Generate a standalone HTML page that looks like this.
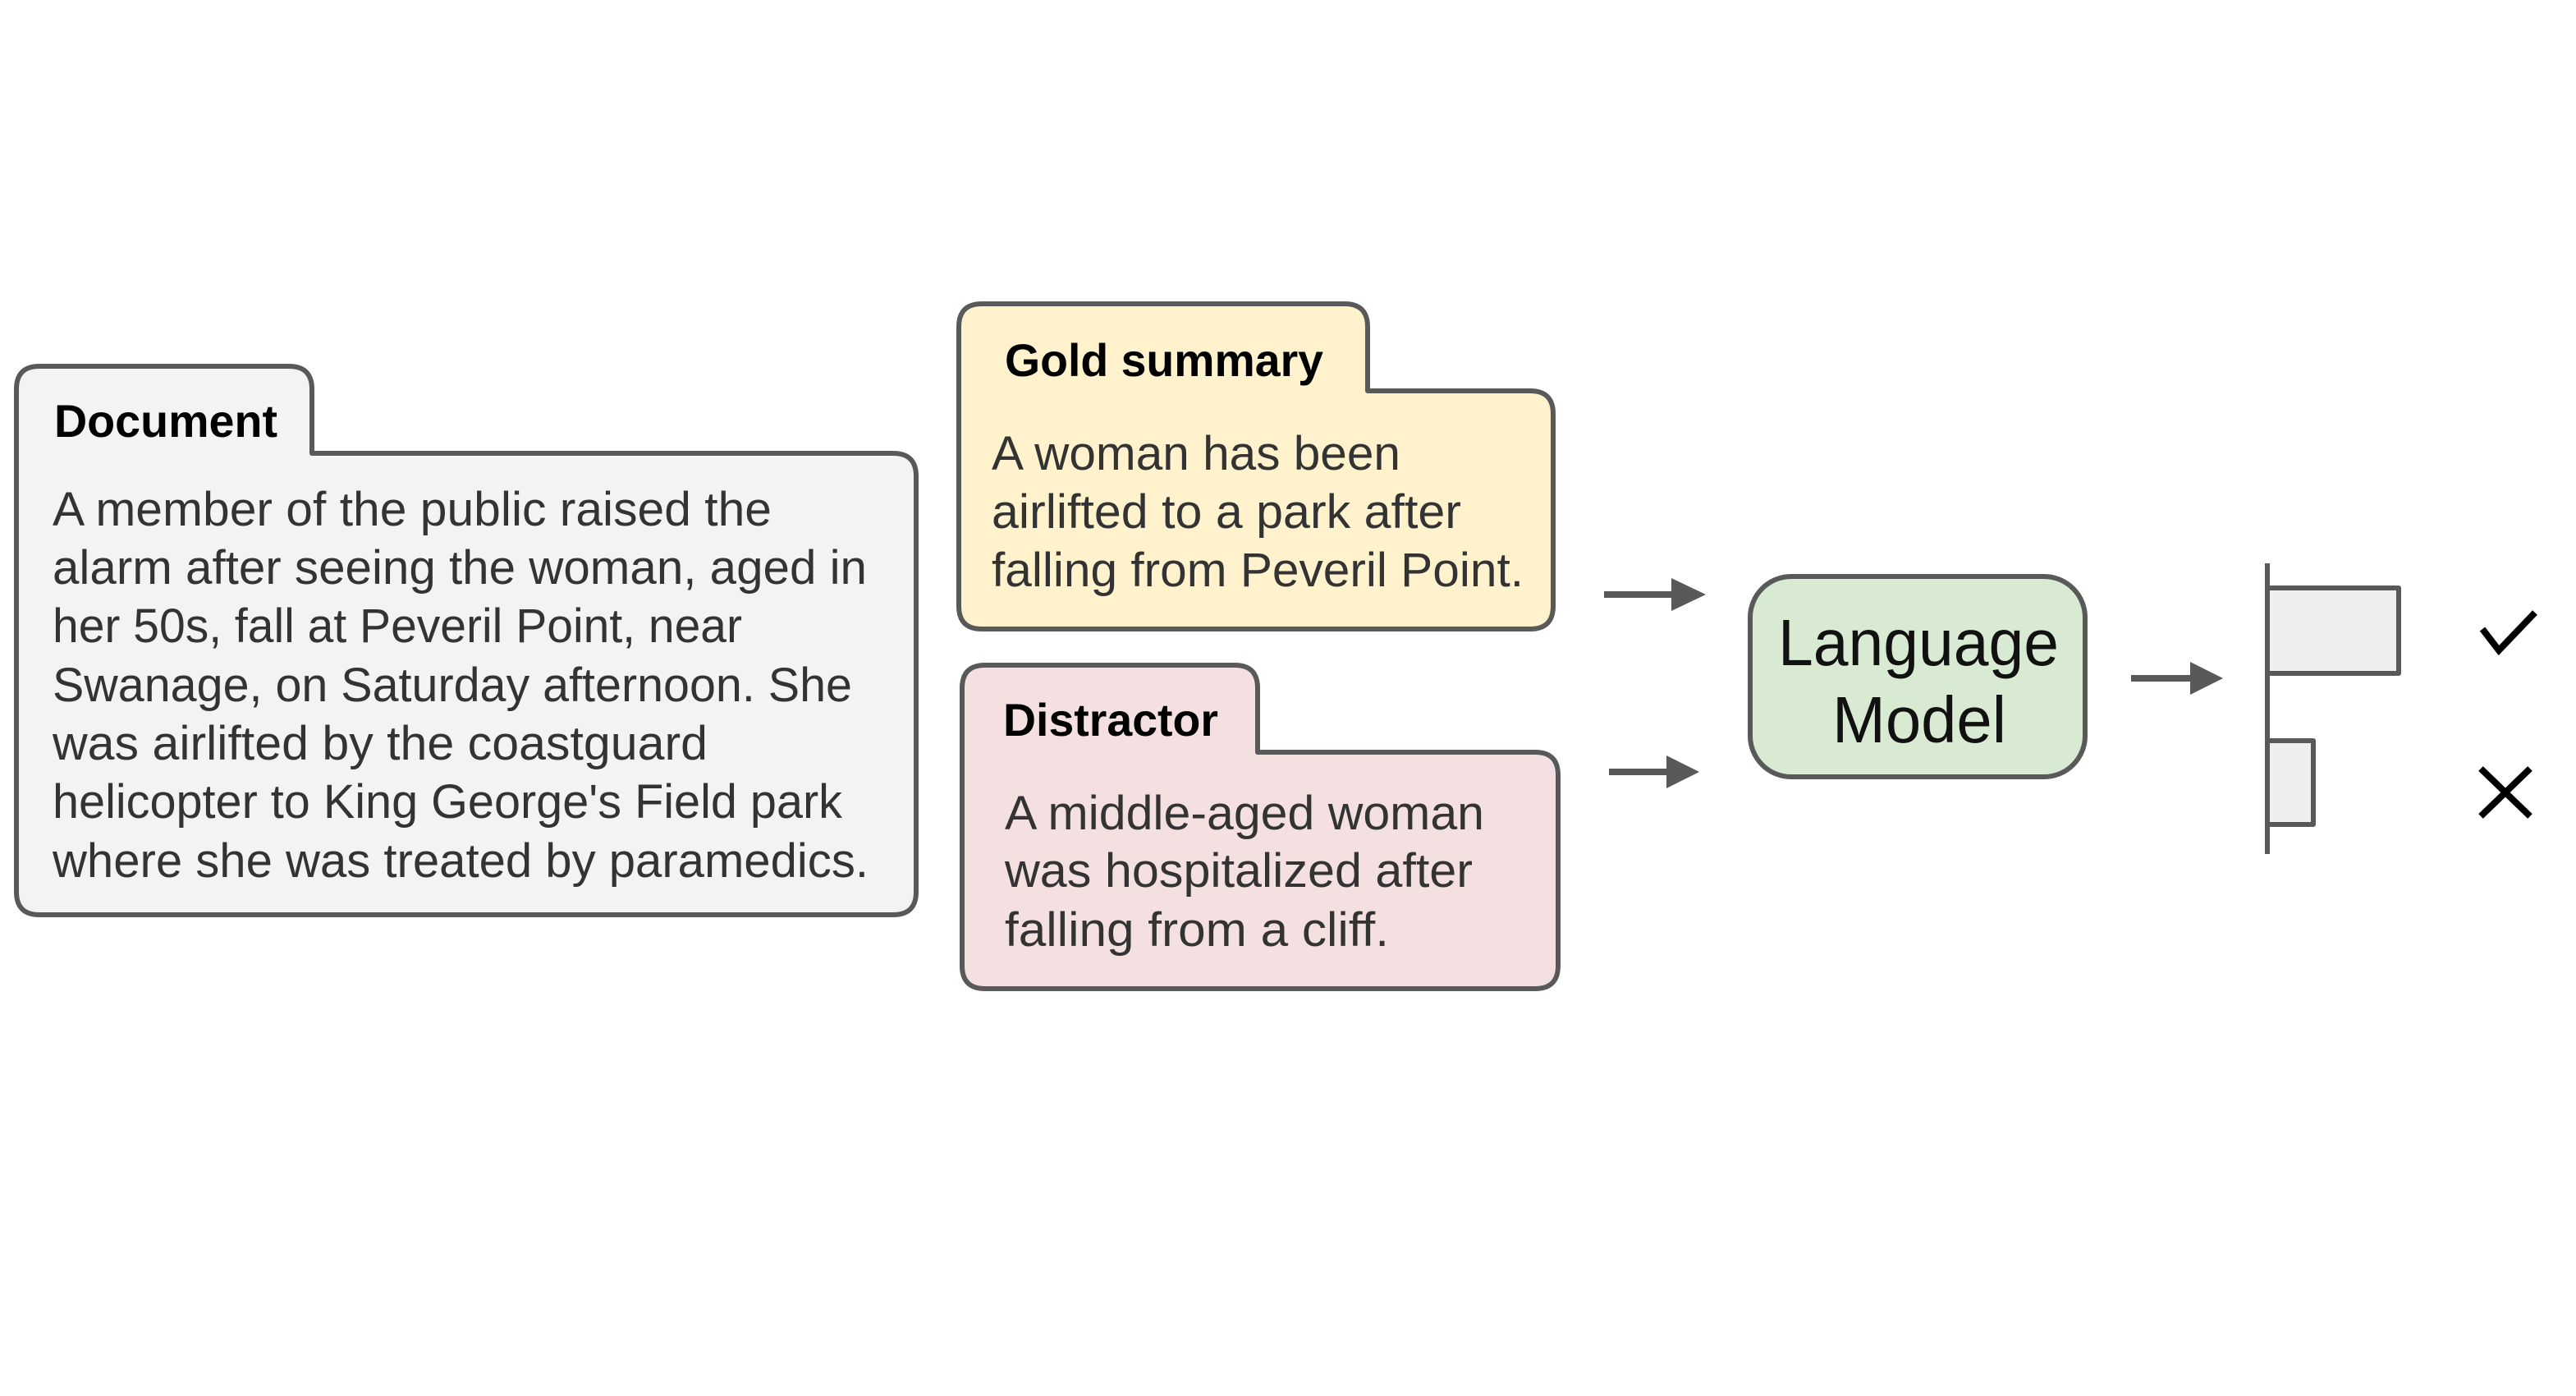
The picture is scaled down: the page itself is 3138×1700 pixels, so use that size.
<!DOCTYPE html>
<html><head><meta charset="utf-8"><style>html,body{margin:0;padding:0;background:#fff}svg{display:block}</style></head>
<body>
<svg width="3138" height="1700" viewBox="0 0 3138 1700" xmlns="http://www.w3.org/2000/svg" font-family="'Liberation Sans', sans-serif">
<rect width="3138" height="1700" fill="#fff"/>
<g stroke="#595959" stroke-width="6" stroke-linejoin="round">
<path d="M20,1086 V474 Q20,446 48,446 H352 Q380,446 380,474 V552 H1088 Q1116,552 1116,580 V1086 Q1116,1114 1088,1114 H48 Q20,1114 20,1086 Z" fill="#f3f3f3"/>
<path d="M1168,738 V398 Q1168,370 1196,370 H1638 Q1666,370 1666,398 V476 H1864 Q1892,476 1892,504 V738 Q1892,766 1864,766 H1196 Q1168,766 1168,738 Z" fill="#fff2cc"/>
<path d="M1172,1176 V838 Q1172,810 1200,810 H1504 Q1532,810 1532,838 V916 H1870 Q1898,916 1898,944 V1176 Q1898,1204 1870,1204 H1200 Q1172,1204 1172,1176 Z" fill="#f4e0e0"/>
<rect x="2132" y="702" width="408" height="244" rx="50" fill="#d9ead3"/>
<rect x="2762" y="716" width="160" height="104" fill="#eeeeee"/>
<rect x="2762" y="902" width="56" height="102" fill="#eeeeee"/>
</g>
<line x1="2762" y1="686" x2="2762" y2="1040" stroke="#595959" stroke-width="6"/>
<g stroke="#595959" stroke-width="8">
<line x1="1954" y1="724" x2="2044" y2="724"/>
<line x1="1960" y1="940" x2="2036" y2="940"/>
<line x1="2596" y1="826" x2="2674" y2="826"/>
</g>
<g fill="#595959">
<polygon points="2036,704 2078,724 2036,744"/>
<polygon points="2030,920 2070,940 2030,960"/>
<polygon points="2668,806 2708,826 2668,846"/>
</g>
<polyline points="3024,766 3044,792 3088,746" fill="none" stroke="#000" stroke-width="8"/>
<g stroke="#000" stroke-width="8"><line x1="3022" y1="936" x2="3082" y2="994"/><line x1="3082" y1="936" x2="3022" y2="994"/></g>
<g font-weight="bold" font-size="56" fill="#000">
<text x="66" y="532" textLength="272" lengthAdjust="spacingAndGlyphs">Document</text>
<text x="1224" y="458" textLength="388" lengthAdjust="spacingAndGlyphs">Gold summary</text>
<text x="1222" y="896" textLength="262" lengthAdjust="spacingAndGlyphs">Distractor</text>
</g>
<g font-size="58" fill="#333">
<text x="64" y="640" textLength="876" lengthAdjust="spacingAndGlyphs">A member of the public raised the</text>
<text x="64" y="711" textLength="992" lengthAdjust="spacingAndGlyphs">alarm after seeing the woman, aged in</text>
<text x="64" y="782" textLength="840" lengthAdjust="spacingAndGlyphs">her 50s, fall at Peveril Point, near</text>
<text x="64" y="854" textLength="974" lengthAdjust="spacingAndGlyphs">Swanage, on Saturday afternoon. She</text>
<text x="64" y="925" textLength="798" lengthAdjust="spacingAndGlyphs">was airlifted by the coastguard</text>
<text x="64" y="996" textLength="962" lengthAdjust="spacingAndGlyphs">helicopter to King George's Field park</text>
<text x="64" y="1068" textLength="994" lengthAdjust="spacingAndGlyphs">where she was treated by paramedics.</text>
<text x="1208" y="572" textLength="498" lengthAdjust="spacingAndGlyphs">A woman has been</text>
<text x="1208" y="643" textLength="572" lengthAdjust="spacingAndGlyphs">airlifted to a park after</text>
<text x="1208" y="714" textLength="648" lengthAdjust="spacingAndGlyphs">falling from Peveril Point.</text>
<text x="1224" y="1010" textLength="584" lengthAdjust="spacingAndGlyphs">A middle-aged woman</text>
<text x="1224" y="1080" textLength="570" lengthAdjust="spacingAndGlyphs">was hospitalized after</text>
<text x="1224" y="1152" textLength="468" lengthAdjust="spacingAndGlyphs">falling from a cliff.</text>
</g>
<g font-size="80" fill="#111">
<text x="2166" y="810" textLength="342" lengthAdjust="spacingAndGlyphs">Language</text>
<text x="2232" y="904" textLength="212" lengthAdjust="spacingAndGlyphs">Model</text>
</g>
</svg>
</body></html>
